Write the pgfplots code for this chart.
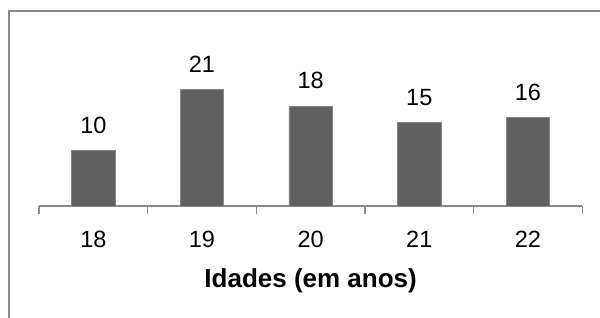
\documentclass[border=0pt]{standalone}
\usepackage{pgfplots}
\pgfplotsset{compat=1.18}
\usepackage{fontspec}
\setmainfont{Liberation Sans}
\definecolor{barfill}{RGB}{96,96,96}
\definecolor{baredge}{RGB}{135,135,135}
\definecolor{axgray}{RGB}{138,138,138}
\begin{document}
\begin{tikzpicture}[x=1pt,y=1pt]
\clip (-39,-111) rectangle (561,206);
\draw[axgray, line width=2.2pt] (-29.7,-130) -- (-29.7,195.2) -- (580,195.2);
\begin{axis}[
  at={(0,0)}, anchor=south west,
  scale only axis,
  width=543.3pt, height=138.75pt,
  ymin=0, ymax=25,
  xmin=-0.5, xmax=4.5,
  ybar, bar width=43.4pt,
  axis x line*=bottom,
  axis y line=none,
  ytick=\empty,
  xtick={0,1,2,3,4},
  xticklabels={18,19,20,21,22},
  major tick length=0pt,
  minor xtick={-0.5,0.5,1.5,2.5,3.5,4.5},
  minor tick length=8pt,
  tick align=outside,
  x axis line style={axgray, line width=1.6pt},
  every minor tick/.append style={axgray, line width=1.6pt},
  xticklabel style={font=\fontsize{23.5}{28}\selectfont, anchor=base, yshift=-41.3pt, inner sep=0pt},
  xlabel={\textbf{Idades (em anos)}},
  xlabel style={font=\fontsize{26}{30}\selectfont, at={(axis description cs:0.5,0)}, anchor=base, yshift=-81.5pt, inner sep=0pt},
  /pgf/number format/assume math mode=true,
  nodes near coords,
  every node near coord/.append style={font=\fontsize{23.5}{28}\selectfont, anchor=base, yshift=17.2pt, inner sep=0pt, black},
  clip=false,
]
\addplot[fill=barfill, draw=baredge, line width=0.8pt] coordinates {(0,10) (1,21) (2,18) (3,15) (4,16)};
\end{axis}
\end{tikzpicture}
\end{document}
